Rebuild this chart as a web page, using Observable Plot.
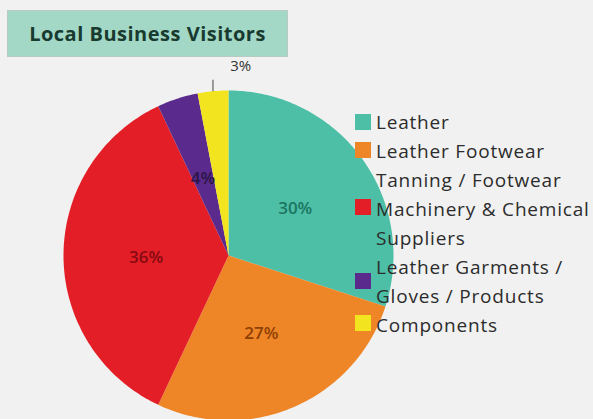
<!DOCTYPE html>
<html><head><meta charset="utf-8">
<script src="https://cdn.jsdelivr.net/npm/d3@7"></script>
<script src="https://cdn.jsdelivr.net/npm/@observablehq/plot@0.6"></script>
<style>
body{margin:0;background:#f1f1f1;font-family:"Open Sans",sans-serif}
#wrap{position:relative;width:593px;height:419px;overflow:hidden;background:#f1f1f1}
#title{position:absolute;left:7px;top:10px;width:281px;height:47px;box-sizing:border-box;background:#a3d8c6;border:1px solid #b7cbc3;font-weight:bold;font-size:20px;color:#183a2f;display:flex;align-items:center;justify-content:center;letter-spacing:0.5px}
.lg{position:absolute;left:376px;font-size:19px;color:#2c2c2c;line-height:29px;height:29px;white-space:nowrap;letter-spacing:0.8px}
.sw{position:absolute;left:355px;width:16px;height:16px}
#chart{position:absolute;left:0;top:0}
</style></head>
<body><div id="wrap"><div id="chart"></div><div id="title">Local Business Visitors</div></div>
<script>
const names = ["Leather","Leather Footwear Tanning / Footwear","Machinery & Chemical Suppliers","Leather Garments / Gloves / Products","Components"];
const values = [30,27,36,4,3];
const colors = ["#4dbfa6","#ee8526","#e41e26","#5a2a8c","#f2e41e"];
const labelColors = ["#1b7560","#8f3f03","#850a12","#2a1545","#333333"];
const legendLines = [["Leather"],["Leather Footwear","Tanning / Footwear"],["Machinery & Chemical","Suppliers"],["Leather Garments /","Gloves / Products"],["Components"]];

const W=593,H=419,cx=228,cy=255,R=165;
const arcs = d3.pie().sort(null).value(d=>d)(values);
const pts=[];
arcs.forEach((a,i)=>{
  pts.push({name:names[i],x:0,y:0});
  const n=Math.max(2,Math.ceil((a.endAngle-a.startAngle)*180/Math.PI));
  for(let k=0;k<=n;k++){const t=a.startAngle+(a.endAngle-a.startAngle)*k/n;pts.push({name:names[i],x:Math.sin(t),y:Math.cos(t)});}
});
const inner=[],outer=[],leaders=[];
arcs.forEach((a,i)=>{
  const m=(a.startAngle+a.endAngle)/2;
  if(values[i]>=4){
    inner.push({text:values[i]+"%",x:0.5*Math.sin(m),y:0.5*Math.cos(m),c:labelColors[i]});
  } else {
    outer.push({text:values[i]+"%",x:1.15*Math.sin(m),y:1.15*Math.cos(m),c:labelColors[i]});
    leaders.push({x1:Math.sin(m),y1:Math.cos(m),x2:Math.sin(m),y2:1.07*Math.cos(m)});
  }
});
const chart = Plot.plot({
  width:W,height:H,margin:0,
  style:{background:"transparent"},
  x:{domain:[-cx/R,(W-cx)/R],axis:null},
  y:{domain:[(cy-H)/R,cy/R],axis:null},
  color:{domain:names,range:colors},
  marks:[
    Plot.line(pts,{x:"x",y:"y",z:"name",fill:"name",stroke:"none",curve:"linear-closed"}),
    Plot.text(inner,{x:"x",y:"y",text:"text",fill:d=>d.c,dy:2,fontSize:17,fontWeight:600,fontFamily:"Open Sans"}),
    Plot.link(leaders,{x1:"x1",y1:"y1",x2:"x2",y2:"y2",stroke:"#444",strokeWidth:1}),
    Plot.text(outer,{x:"x",y:"y",text:"text",fill:d=>d.c,dx:30,fontSize:15,fontFamily:"Open Sans"})
  ]
});
document.getElementById("chart").appendChild(chart);
const wrap=document.getElementById("wrap");
const swatchY=[122,150,207,281,323];
const lineY=[[122],[151,180],[209,238],[267,296],[325]];
legendLines.forEach((lines,i)=>{
  const s=document.createElement("div");s.className="sw";s.style.background=colors[i];s.style.top=(swatchY[i]-8)+"px";wrap.appendChild(s);
  lines.forEach((t,j)=>{const d=document.createElement("div");d.className="lg";d.textContent=t;d.style.top=(lineY[i][j]-14.5)+"px";wrap.appendChild(d);});
});
</script></body></html>
